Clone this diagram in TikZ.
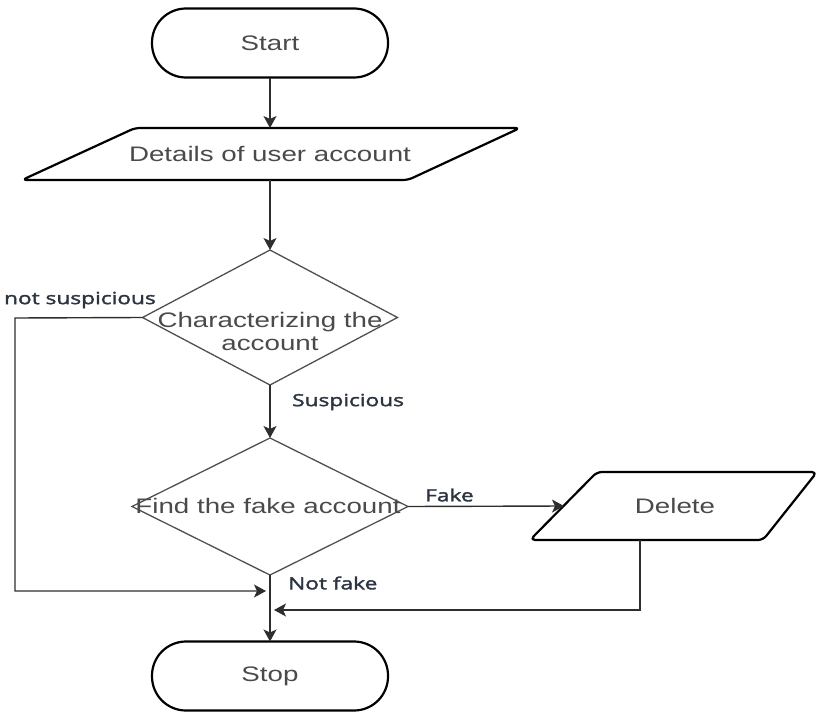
\documentclass[tikz,border=0pt]{standalone}
\usepackage{fontspec}
\setmainfont{Liberation Sans}
\newfontfamily\shapefont[FakeStretch=1.32]{Liberation Sans}
\newfontfamily\lblfont[FakeStretch=1.35,FakeBold=2]{Open Sans}
\usetikzlibrary{shapes.geometric,arrows.meta}
\definecolor{linec}{HTML}{2E2E2E}
\definecolor{txtc}{HTML}{4A4A4A}
\definecolor{lblc}{HTML}{2B3440}
\definecolor{dgray}{HTML}{505050}
\begin{document}
\begin{tikzpicture}[x=1pt,y=-1pt,
  terminal/.style={draw=black, line width=2.2pt, rounded corners=34pt, minimum width=236pt,
    minimum height=69pt, inner sep=0pt, outer sep=0pt, font=\shapefont\fontsize{21}{25}\selectfont, text=txtc},
  iobody/.style={inner sep=0pt, outer sep=0pt, font=\shapefont\fontsize{21}{25}\selectfont, text=txtc},
  ioline/.style={draw=black, line width=2.2pt, rounded corners=5pt, line join=round},
  decision/.style={diamond, draw=dgray, line width=1.3pt, inner sep=0pt, outer sep=0pt},
  dtext/.style={font=\shapefont\fontsize{21}{25}\selectfont, text=txtc, align=center, inner sep=0pt},
  flow/.style={draw=linec, line width=1.4pt, -{Stealth[length=12pt,width=13pt,inset=3pt]}},
  plain/.style={draw=linec, line width=1.4pt},
  lbl/.style={font=\lblfont\fontsize{16.8}{20}\selectfont, text=lblc, inner sep=0pt}
]
\useasboundingbox (0,0) rectangle (817,712);

% Start
\node[terminal] (start) at (270,43) {Start};

% Details parallelogram
\draw[ioline] (22,180) -- (135,128) -- (520,128) -- (408,180) -- cycle;
\node[iobody, minimum width=300pt, minimum height=52pt] (details) at (270,154) {Details of user account};

% Decision 1
\node[decision, minimum width=255pt, minimum height=135pt] (d1) at (270,317.5) {};
\node[dtext] (d1t) at (270,331) {Characterizing the\\[-2pt]account};

% Decision 2
\node[decision, minimum width=276pt, minimum height=137pt] (d2) at (270,506.5) {};
\node[dtext] (d2t) at (268,506) {Find the fake account};

% Delete parallelogram
\draw[ioline] (530,540) -- (597,472) -- (817,472) -- (763,540) -- cycle;
\node[iobody, minimum width=222pt, minimum height=68pt] (delete) at (675,506) {Delete};

% Stop
\node[terminal] (stop) at (270,676) {Stop};

% coordinates for joins
\coordinate (joinL) at (266,591);
\coordinate (joinR) at (274,610);
\coordinate (cornerL1) at (15,318);
\coordinate (cornerL2) at (15,591);
\coordinate (cornerR) at (640,610);

% connectors
\draw[flow] (start.south) -- (details.north);
\draw[flow] (details.south) -- (d1.north);
\draw[flow] (d1.south) -- (d2.north);
\draw[flow] (d2.south) -- (stop.north);
\draw[flow] (d1.west) -- (cornerL1) -- (cornerL2) -- (joinL);
\draw[flow] (d2.east) -- (delete.west);
\draw[flow] ([xshift=-35pt]delete.south) -- (cornerR) -- (joinR);

% labels
\node[lbl, anchor=east] (lns) at (156,300) {not suspicious};
\node[lbl, anchor=west] (lsus) at (292,402) {Suspicious};
\node[lbl, anchor=west] (lfake) at (425,495) {Fake};
\node[lbl, anchor=west] (lnf) at (288,583) {Not fake};
\end{tikzpicture}
\end{document}
